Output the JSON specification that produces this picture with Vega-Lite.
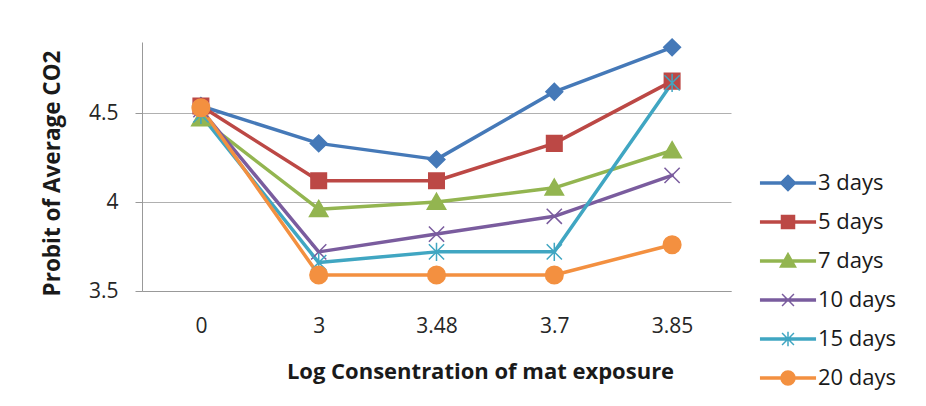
{
  "$schema": "https://vega.github.io/schema/vega-lite/v6.json",
  "width": 589,
  "height": 249,
  "autosize": {"type": "none"},
  "padding": {"left": 142, "top": 42, "right": 195, "bottom": 115},
  "background": "white",
  "config": {
    "view": {"stroke": null},
    "font": "Open Sans",
    "axis": {
      "labelFont": "Open Sans",
      "labelFontSize": 21,
      "labelColor": "#262626",
      "titleFont": "Open Sans",
      "titleFontWeight": "bold",
      "titleFontSize": 22,
      "titleColor": "#1a1a1a",
      "domainColor": "#999999",
      "tickColor": "#999999",
      "gridColor": "#b0b0b0"
    },
    "point": {"filled": true, "opacity": 1, "strokeWidth": 1.5, "size": 256}
  },
  "data": {
    "values": [
      {"conc": "0", "series": "3 days", "probit": 4.54},
      {"conc": "3", "series": "3 days", "probit": 4.33},
      {"conc": "3.48", "series": "3 days", "probit": 4.24},
      {"conc": "3.7", "series": "3 days", "probit": 4.62},
      {"conc": "3.85", "series": "3 days", "probit": 4.87},
      {"conc": "0", "series": "5 days", "probit": 4.54},
      {"conc": "3", "series": "5 days", "probit": 4.12},
      {"conc": "3.48", "series": "5 days", "probit": 4.12},
      {"conc": "3.7", "series": "5 days", "probit": 4.33},
      {"conc": "3.85", "series": "5 days", "probit": 4.68},
      {"conc": "0", "series": "7 days", "probit": 4.47},
      {"conc": "3", "series": "7 days", "probit": 3.96},
      {"conc": "3.48", "series": "7 days", "probit": 4.0},
      {"conc": "3.7", "series": "7 days", "probit": 4.08},
      {"conc": "3.85", "series": "7 days", "probit": 4.29},
      {"conc": "0", "series": "10 days", "probit": 4.52},
      {"conc": "3", "series": "10 days", "probit": 3.72},
      {"conc": "3.48", "series": "10 days", "probit": 3.82},
      {"conc": "3.7", "series": "10 days", "probit": 3.92},
      {"conc": "3.85", "series": "10 days", "probit": 4.15},
      {"conc": "0", "series": "15 days", "probit": 4.49},
      {"conc": "3", "series": "15 days", "probit": 3.66},
      {"conc": "3.48", "series": "15 days", "probit": 3.72},
      {"conc": "3.7", "series": "15 days", "probit": 3.72},
      {"conc": "3.85", "series": "15 days", "probit": 4.67},
      {"conc": "0", "series": "20 days", "probit": 4.53},
      {"conc": "3", "series": "20 days", "probit": 3.59},
      {"conc": "3.48", "series": "20 days", "probit": 3.59},
      {"conc": "3.7", "series": "20 days", "probit": 3.59},
      {"conc": "3.85", "series": "20 days", "probit": 3.76}
    ]
  },
  "encoding": {
    "x": {
      "field": "conc",
      "type": "ordinal",
      "sort": ["0", "3", "3.48", "3.7", "3.85"],
      "scale": {"type": "point", "padding": 0.5},
      "axis": {
        "title": "Log Consentration of mat exposure",
        "labelAngle": 0,
        "ticks": false,
        "tickSize": 0,
        "labelPadding": 24,
        "labelBaseline": "top",
        "titleX": 338,
        "titleY": 80,
        "titleAnchor": null,
        "titleAlign": "center",
        "titleBaseline": "middle"
      }
    },
    "y": {
      "field": "probit",
      "type": "quantitative",
      "scale": {"domain": [3.5, 4.9], "nice": false, "zero": false},
      "axis": {
        "title": "Probit of Average CO2",
        "titleFontSize": 22.5,
        "values": [3.5, 4, 4.5],
        "format": "~g",
        "tickSize": 7,
        "labelPadding": 17,
        "grid": true,
        "titleX": -90,
        "titleY": 131,
        "titleAlign": "center",
        "titleBaseline": "middle",
        "titleAngle": -90
      }
    },
    "color": {
      "field": "series",
      "type": "nominal",
      "scale": {
        "domain": ["3 days", "5 days", "7 days", "10 days", "15 days", "20 days"],
        "range": ["#4579B8", "#BC4845", "#93B550", "#7A5C9E", "#40A6C2", "#F39040"]
      },
      "legend": {
        "title": null,
        "orient": "none",
        "legendX": 635,
        "legendY": 130,
        "symbolSize": 196,
        "symbolStrokeWidth": 1,
        "symbolType": {"expr": "datum.value === '3 days' ? 'M-3.9,-0.15L3.9,-0.15L3.9,0.15L-3.9,0.15Z M0,-1.1L1.1,0L0,1.1L-1.1,0Z' : datum.value === '5 days' ? 'M-3.9,-0.15L3.9,-0.15L3.9,0.15L-3.9,0.15Z M-0.93,-0.93L0.93,-0.93L0.93,0.93L-0.93,0.93Z' : datum.value === '7 days' ? 'M-3.9,-0.15L3.9,-0.15L3.9,0.15L-3.9,0.15Z M0,-1.1L1.1,0.85L-1.1,0.85Z' : datum.value === '10 days' ? 'M-3.9,-0.15L3.9,-0.15L3.9,0.15L-3.9,0.15Z M-0.85,-0.85L0.85,0.85M-0.85,0.85L0.85,-0.85' : datum.value === '15 days' ? 'M-3.9,-0.15L3.9,-0.15L3.9,0.15L-3.9,0.15Z M-0.85,-0.85L0.85,0.85M-0.85,0.85L0.85,-0.85M0,-1.05L0,1.05' : 'M-3.9,-0.15L3.9,-0.15L3.9,0.15L-3.9,0.15Z M-1,0A1,1,0,1,1,1,0A1,1,0,1,1,-1,0Z'"},
        "labelFont": "Open Sans",
        "labelFontSize": 22,
        "labelColor": "#1a1a1a",
        "labelOffset": 19,
        "rowPadding": 17
      }
    }
  },
  "layer": [
    {
      "mark": {"type": "line", "strokeWidth": 3.5, "strokeJoin": "round", "strokeCap": "round"},
      "encoding": {
        "detail": {"field": "series"}
      }
    },
    {
      "transform": [{"filter": "datum.series === '3 days'"}],
      "mark": {"type": "point", "shape": "M0,-1.05L1.05,0L0,1.05L-1.05,0Z", "stroke": "#4579B8"}
    },
    {
      "transform": [{"filter": "datum.series === '5 days'"}],
      "mark": {"type": "point", "shape": "M-0.97,-0.97L0.97,-0.97L0.97,0.97L-0.97,0.97Z", "stroke": "#BC4845"}
    },
    {
      "transform": [{"filter": "datum.series === '7 days'"}],
      "mark": {"type": "point", "shape": "M0,-1.1L1.15,0.9L-1.15,0.9Z", "stroke": "#93B550"}
    },
    {
      "transform": [{"filter": "datum.series === '10 days'"}],
      "mark": {"type": "point", "shape": "M-0.95,-0.95L0.95,0.95M-0.95,0.95L0.95,-0.95", "stroke": "#7A5C9E"}
    },
    {
      "transform": [{"filter": "datum.series === '15 days'"}],
      "mark": {"type": "point", "shape": "M-0.95,-0.95L0.95,0.95M-0.95,0.95L0.95,-0.95M0,-1.15L0,1.15", "stroke": "#40A6C2"}
    },
    {
      "transform": [{"filter": "datum.series === '20 days'"}],
      "mark": {"type": "point", "shape": "M-1.1,0A1.1,1.1,0,1,1,1.1,0A1.1,1.1,0,1,1,-1.1,0Z", "stroke": "#F39040"}
    }
  ]
}
